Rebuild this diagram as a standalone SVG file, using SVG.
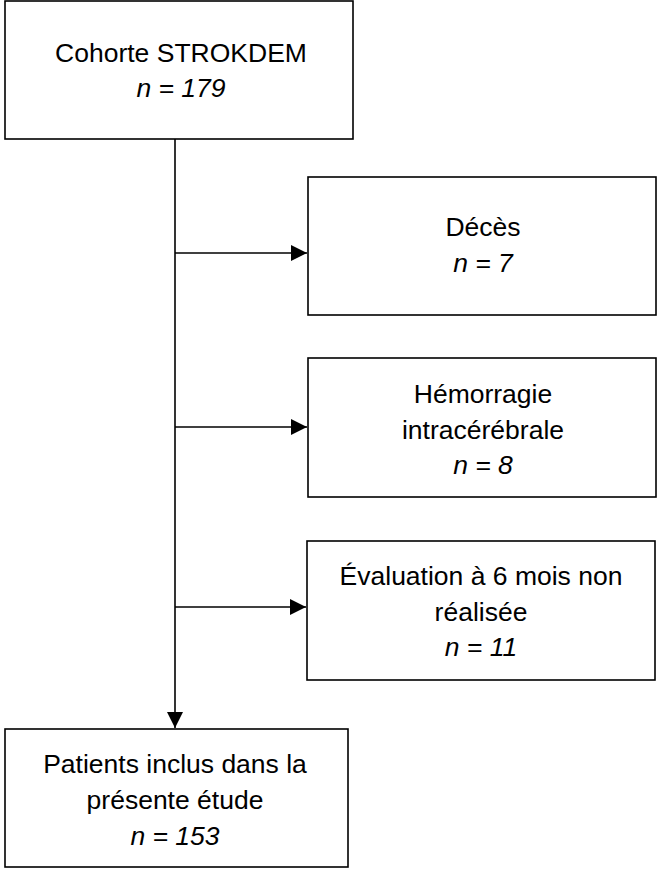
<svg xmlns="http://www.w3.org/2000/svg" width="657" height="869" viewBox="0 0 657 869">
<style>
.box{fill:#fff;stroke:#000;stroke-width:1.6}
.t{font-family:"Liberation Sans",Arial,sans-serif;font-size:26.5px;fill:#000;text-anchor:middle}
.i{font-style:italic}
.c{stroke:#000;stroke-width:1.6;fill:none}
</style>
<defs>
<marker id="ah" markerUnits="userSpaceOnUse" markerWidth="16" markerHeight="16" viewBox="0 0 16 16" refX="16" refY="8" orient="auto">
<path d="M0,0 L16,8 L0,16 Z" fill="#000"/>
</marker>
</defs>
<g id="connectors">
<line class="c" x1="175" y1="139" x2="175" y2="728" marker-end="url(#ah)"/>
<line class="c" x1="175" y1="253" x2="307" y2="253" marker-end="url(#ah)"/>
<line class="c" x1="175" y1="427" x2="307" y2="427" marker-end="url(#ah)"/>
<line class="c" x1="175" y1="607" x2="306" y2="607" marker-end="url(#ah)"/>
</g>
<g id="cohorte">
<rect class="box" x="5" y="1" width="348" height="138"/>
<text class="t" x="181" y="62">Cohorte STROKDEM</text>
<text class="t i" x="181" y="97">n = 179</text>
</g>
<g id="deces">
<rect class="box" x="308" y="177" width="348" height="138"/>
<text class="t" x="483" y="236">Décès</text>
<text class="t i" x="483" y="272">n = 7</text>
</g>
<g id="hemorragie">
<rect class="box" x="308" y="358" width="348" height="139"/>
<text class="t" x="483" y="403">Hémorragie</text>
<text class="t" x="483" y="439">intracérébrale</text>
<text class="t i" x="483" y="474">n = 8</text>
</g>
<g id="evaluation">
<rect class="box" x="307" y="541" width="348" height="139"/>
<text class="t" x="481" y="585">Évaluation à 6 mois non</text>
<text class="t" x="481" y="621">réalisée</text>
<text class="t i" x="481" y="656">n = 11</text>
</g>
<g id="patients">
<rect class="box" x="5" y="729" width="343" height="138"/>
<text class="t" x="175" y="773">Patients inclus dans la</text>
<text class="t" x="175" y="809">présente étude</text>
<text class="t i" x="175" y="845">n = 153</text>
</g>
</svg>
